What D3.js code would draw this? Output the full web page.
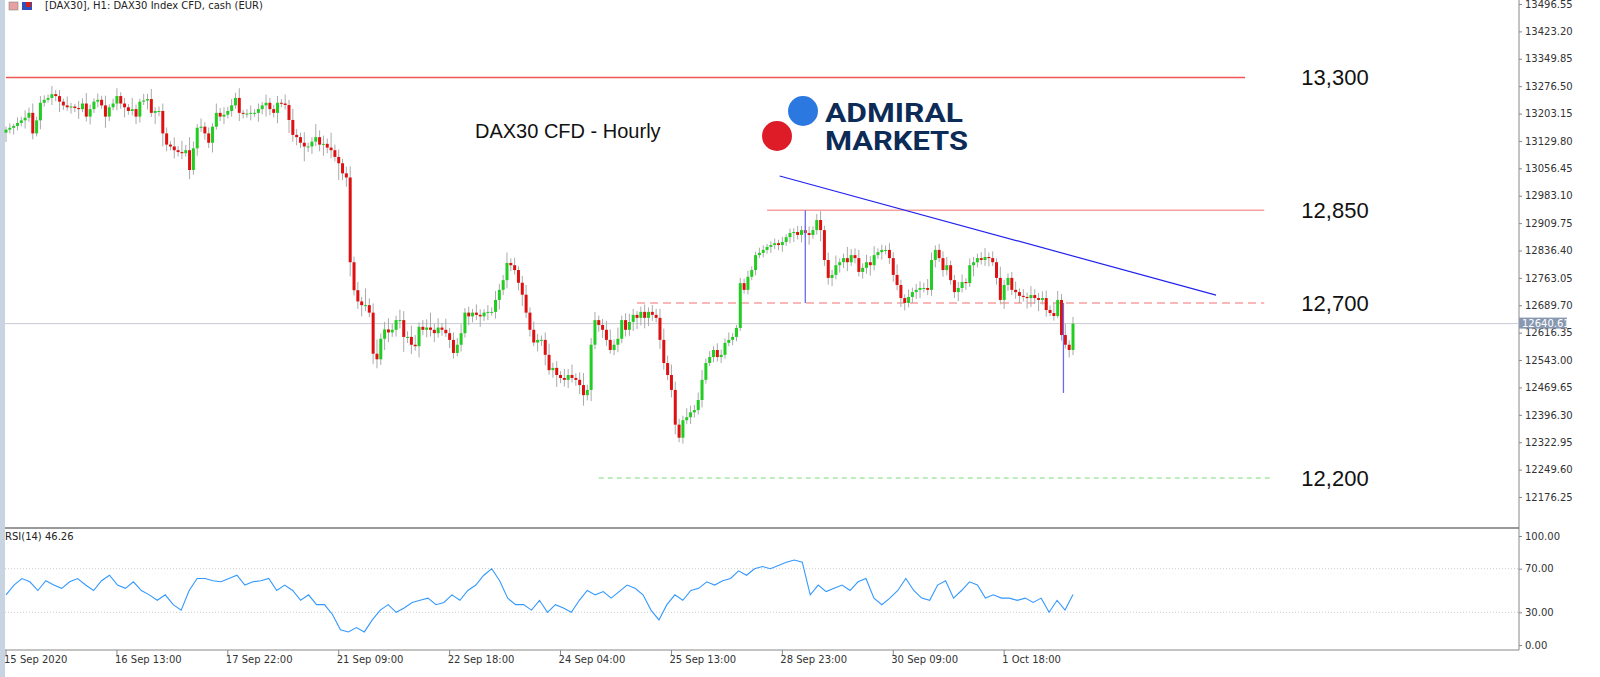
<!DOCTYPE html>
<html><head><meta charset="utf-8">
<script src="https://cdn.jsdelivr.net/npm/d3@7"></script>
<style>body{margin:0;background:#fff;}svg{display:block;font-family:Tahoma,"DejaVu Sans",sans-serif;}</style>
</head><body><svg id="c" width="1600" height="677"></svg>
<script>
const closes=[13160,13165,13170,13178,13185,13192,13205,13150,13185,13232,
13240,13245,13255,13250,13235,13225,13220,13222,13218,13215,
13230,13195,13215,13235,13240,13225,13195,13220,13230,13250,
13230,13220,13210,13215,13195,13235,13238,13242,13205,13210,
13210,13150,13120,13115,13105,13100,13097,13105,13052,13110,
13165,13168,13150,13125,13168,13205,13195,13200,13210,13225,
13245,13205,13203,13203,13205,13205,13215,13225,13232,13215,
13205,13232,13230,13226,13186,13146,13140,13125,13115,13115,
13128,13140,13120,13122,13112,13105,13087,13070,13043,13032,
12805,12730,12700,12690,12690,12670,12560,12545,12600,12625,
12617,12624,12650,12650,12605,12605,12584,12580,12632,12624,
12630,12624,12615,12630,12624,12615,12597,12562,12584,12615,
12670,12660,12670,12664,12660,12670,12672,12672,12704,12731,
12757,12803,12797,12784,12750,12718,12670,12624,12590,12597,
12597,12557,12516,12522,12503,12495,12490,12503,12495,12490,
12476,12449,12463,12584,12650,12637,12624,12597,12570,12584,
12600,12650,12624,12645,12664,12656,12672,12656,12672,12664,
12656,12597,12535,12503,12463,12370,12335,12382,12390,12403,
12409,12436,12490,12535,12551,12570,12551,12557,12589,12597,
12605,12629,12749,12731,12766,12784,12824,12830,12838,12846,
12851,12856,12851,12859,12872,12883,12886,12878,12891,12883,
12878,12891,12918,12891,12811,12763,12771,12797,12805,12816,
12805,12824,12816,12779,12790,12805,12797,12824,12832,12838,
12838,12816,12771,12744,12709,12696,12712,12725,12731,12736,
12736,12731,12811,12838,12816,12784,12797,12757,12725,12736,
12752,12749,12797,12805,12816,12811,12819,12816,12805,12763,
12704,12744,12763,12731,12725,12715,12712,12709,12717,12709,
12704,12709,12677,12669,12661,12704,12610,12584,12570,12640.61];
const wicks=[8,12,6,15,10,20,14,25,10,18,12,9,22,11,16,8,24,10,7,19,
14,28,12,9,17,11,26,8,13,21,10,15,9,30,12,8,18,14,27,10,
12,20,16,9,24,11,30,14,35,18,10,22,12,16,9,25,13,20,11,17,
14,26,8,12,20,10,15,9,22,13,11,18,10,24,14,30,16,12,28,10,
12,35,18,22,14,40,15,20,12,18,30,15,22,12,45,18,25,38,14,20,
30,16,12,28,24,15,30,26,12,18,22,40,16,25,12,30,14,20,18,24,
12,16,10,22,15,9,18,12,24,16,14,28,12,20,10,18,26,14,22,16,
12,20,30,14,18,10,24,16,28,12,20,32,14,18,22,12,16,24,28,14,
30,12,18,22,16,10,14,20,12,18,16,24,30,20,28,22,16,12,24,18,
14,20,26,12,16,10,18,14,12,20,10,8,14,12,16,10,9,14,12,8,
10,12,9,14,8,12,10,16,11,14,18,10,16,24,12,20,14,26,10,12,
30,16,18,22,12,20,16,24,10,14,12,18,16,28,14,10,20,12,16,18,
14,24,20,12,16,18,22,12,14,16,20,10,18,14,12,16,24,12,18,10,
30,14,12,16,22,10,18,12,24,16,14,18,20,12,28,24,16,30,12,18];
const rsi=[46,55,61,58,50,59,55,52,58,61,55,50,59,64,55,52,58,50,46,41,
46,37,32,50,61,61,59,58,61,64,55,58,59,61,50,55,50,41,46,37,
37,28,14,12,16,12,23,32,37,30,34,39,41,43,37,39,46,41,50,55,
64,70,59,43,37,37,32,41,30,37,34,30,41,50,46,49,43,49,55,52,
46,32,23,37,46,41,50,52,58,55,59,61,68,64,70,72,70,73,76,78,
76,46,55,49,52,55,50,58,61,43,37,43,50,61,50,43,41,55,59,43,
50,58,55,43,46,43,43,41,43,39,43,30,41,32,46.26];
const priceTicks=[13496.55,13423.20,13349.85,13276.50,13203.15,13129.80,13056.45,12983.10,12909.75,12836.40,12763.05,12689.70,12616.35,12543.00,12469.65,12396.30,12322.95,12249.60,12176.25];
const rsiTicks=[100,70,30,0];
const timeLabels=["15 Sep 2020","16 Sep 13:00","17 Sep 22:00","21 Sep 09:00","22 Sep 18:00","24 Sep 04:00","25 Sep 13:00","28 Sep 23:00","30 Sep 09:00","1 Oct 18:00"];
const timeIdx=[0,29,58,87,116,145,174,203,232,261];
const levels=[{p:13300,t:"13,300",from:0,to:324,col:"#f25555",dash:null},
{p:12944,t:"12,850",from:199,to:329,col:"#f7a0a0",dash:null},
{p:12696,t:"12,700",from:165,to:329,col:"#f7a0a0",dash:"8,5"},
{p:12227,t:"12,200",from:155,to:331,col:"#a8e8a8",dash:"5,4"}];
const trend=[{i:202.3,p:13036},{i:316.4,p:12717}];
const vlines=[{i:209,p1:12944,p2:12696},{i:276.5,p1:12696,p2:12455}];
const lastPrice=12640.61;

const svg=d3.select("#c");
const x=d3.scaleLinear().domain([0,279]).range([6,1073]);
const y=d3.scaleLinear().domain([12176.25,13496.55]).range([497,4]);
const yr=d3.scaleLinear().domain([0,100]).range([645,536]);
const AX=1519;
svg.append("rect").attr("x",0).attr("y",0).attr("width",5).attr("height",677).attr("fill","#c9d4e3");
svg.append("line").attr("x1",AX).attr("x2",AX).attr("y1",0).attr("y2",650).attr("stroke","#888");
svg.append("line").attr("x1",5).attr("x2",AX).attr("y1",528).attr("y2",528).attr("stroke","#777").attr("stroke-width",1.5);
svg.append("line").attr("x1",5).attr("x2",AX).attr("y1",650).attr("y2",650).attr("stroke","#888");
const pa=svg.append("g").attr("transform",`translate(${AX},0)`).call(d3.axisRight(y).tickValues(priceTicks).tickSize(3).tickFormat(d3.format(".2f")));
pa.select(".domain").remove();
pa.selectAll("text").attr("font-size",10).attr("fill","#333").attr("font-family","Tahoma,'DejaVu Sans',sans-serif").attr("dy","0.32em");
pa.selectAll("line").attr("stroke","#888");
const ra=svg.append("g").attr("transform",`translate(${AX},0)`).call(d3.axisRight(yr).tickValues(rsiTicks).tickSize(3).tickFormat(d3.format(".2f")));
ra.select(".domain").remove();
ra.selectAll("text").attr("font-size",10).attr("fill","#333").attr("font-family","Tahoma,'DejaVu Sans',sans-serif");
ra.selectAll("line").attr("stroke","#888");
[70,30].forEach(v=>svg.append("line").attr("x1",5).attr("x2",AX).attr("y1",yr(v)).attr("y2",yr(v)).attr("stroke","#ccc").attr("stroke-dasharray","1,2"));
timeIdx.forEach((ix,k)=>{const xx=x(ix);
 svg.append("line").attr("x1",xx).attr("x2",xx).attr("y1",650).attr("y2",655).attr("stroke","#888");
 svg.append("text").attr("x",xx-2).attr("y",663).attr("font-size",10).attr("fill","#333").text(timeLabels[k]);});
svg.append("rect").attr("x",9).attr("y",2).attr("width",9).attr("height",8).attr("fill","#e8a0a0").attr("stroke","#888").attr("stroke-width",0.6);
svg.append("rect").attr("x",22).attr("y",2).attr("width",10).attr("height",8).attr("fill","#3050c0");
svg.append("rect").attr("x",26).attr("y",2).attr("width",5).attr("height",5).attr("fill","#d02020");
svg.append("text").attr("x",45).attr("y",9).attr("font-size",10).attr("fill","#222").text("[DAX30], H1:  DAX30 Index CFD, cash (EUR)");
svg.append("text").attr("x",5).attr("y",540).attr("font-size",10).attr("fill","#222").text("RSI(14) 46.26");
svg.append("line").attr("x1",5).attr("x2",AX).attr("y1",y(lastPrice)).attr("y2",y(lastPrice)).attr("stroke","#c8ccd4");
svg.append("rect").attr("x",AX).attr("y",y(lastPrice)-6).attr("width",48).attr("height",11).attr("fill","#8898b0");
svg.append("text").attr("x",AX+3).attr("y",y(lastPrice)+3).attr("font-size",10).attr("fill","#fff").text("12640.61");
levels.forEach(l=>{svg.append("line").attr("x1",x(l.from)).attr("x2",x(l.to)).attr("y1",y(l.p)).attr("y2",y(l.p)).attr("stroke",l.col).attr("stroke-width",1.5).attr("stroke-dasharray",l.dash);
 svg.append("text").attr("x",1335).attr("y",y(l.p)+8).attr("text-anchor","middle").attr("font-size",22).attr("font-family","'Liberation Sans',Arial,sans-serif").attr("fill","#111").text(l.t);});
const data=closes.map((c,i)=>{const o=i?closes[i-1]:c-8;return {i,o,c,h:Math.max(o,c)+wicks[i],l:Math.min(o,c)-wicks[(i+7)%wicks.length]};});
const g=svg.append("g");
g.selectAll("line.w").data(data).join("line").attr("x1",d=>x(d.i)).attr("x2",d=>x(d.i)).attr("y1",d=>y(d.h)).attr("y2",d=>y(d.l)).attr("stroke","#aaa");
g.selectAll("rect").data(data).join("rect").attr("x",d=>x(d.i)-1.5).attr("width",3)
 .attr("y",d=>y(Math.max(d.o,d.c))).attr("height",d=>Math.max(1,Math.abs(y(d.o)-y(d.c))))
 .attr("fill",d=>d.c>=d.o?"#22cc22":"#dd1111");
svg.append("line").attr("x1",x(trend[0].i)).attr("y1",y(trend[0].p)).attr("x2",x(trend[1].i)).attr("y2",y(trend[1].p)).attr("stroke","#2222ee").attr("stroke-width",1.2);
vlines.forEach(v=>svg.append("line").attr("x1",x(v.i)).attr("x2",x(v.i)).attr("y1",y(v.p1)).attr("y2",y(v.p2)).attr("stroke","#6a6af0").attr("stroke-width",1.3));
const rx=d3.scaleLinear().domain([0,rsi.length-1]).range([x(0),x(279)]);
svg.append("path").datum(rsi).attr("d",d3.line().x((d,i)=>rx(i)).y(d=>yr(d))).attr("fill","none").attr("stroke","#3399ff").attr("stroke-width",1.1);
svg.append("text").attr("x",475).attr("y",138).attr("font-size",20).attr("font-family","'Liberation Sans',Arial,sans-serif").attr("fill","#111").text("DAX30 CFD - Hourly");
svg.append("circle").attr("cx",803).attr("cy",111).attr("r",15).attr("fill","#2b78e0");
svg.append("circle").attr("cx",777).attr("cy",136).attr("r",15).attr("fill","#dd1c28");
svg.append("text").attr("x",825).attr("y",122).attr("font-size",26).attr("font-weight","bold").attr("font-family","Roboto,'Liberation Sans',sans-serif").attr("fill","#0c2b56").attr("textLength",138).attr("lengthAdjust","spacingAndGlyphs").text("ADMIRAL");
svg.append("text").attr("x",825).attr("y",150).attr("font-size",26).attr("font-weight","bold").attr("font-family","Roboto,'Liberation Sans',sans-serif").attr("fill","#0c2b56").attr("textLength",143).attr("lengthAdjust","spacingAndGlyphs").text("MARKETS");
</script></body></html>
